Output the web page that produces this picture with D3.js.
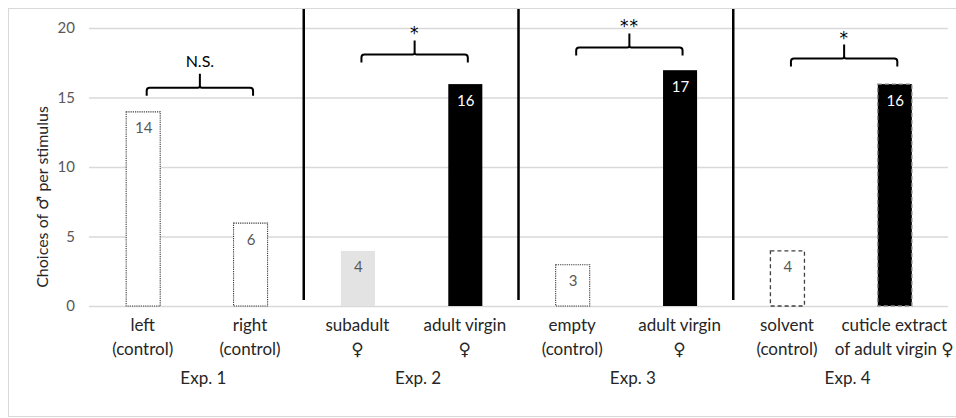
<!DOCTYPE html>
<html>
<head>
<meta charset="utf-8">
<script src="https://cdn.jsdelivr.net/npm/d3@7"></script>
<style>
  html, body { margin: 0; padding: 0; background: #fff; }
  svg { display: block; font-family: "Lato", "Open Sans", "DejaVu Sans", sans-serif; }
</style>
</head>
<body>
<svg id="chart" width="956" height="418"></svg>
<script>
// Stimulus categories (two lines each) and their experiment
const catLine1 = ["left", "right", "subadult", "adult virgin", "empty", "adult virgin", "solvent", "cuticle extract"];
const catLine2 = ["(control)", "(control)", "♀", "♀", "(control)", "♀", "(control)", "of adult virgin ♀"];
const values = [14, 6, 4, 16, 3, 17, 4, 16];
const barStyles = ["dotted", "dotted", "grey", "black", "dotted", "black", "dashed", "blackDashed"];
const experiments = ["Exp. 1", "Exp. 2", "Exp. 3", "Exp. 4"];
const sigLabels = ["N.S.", "*", "**", "*"];
const bracketLevels = [15.7, 18.1, 18.6, 17.8];
const yTicks = [0, 5, 10, 15, 20];

const svg = d3.select("#chart");
const W = 956, H = 418;
const labelSize = 17;

// outer frame
svg.append("rect").attr("x", 8.5).attr("y", 8.5).attr("width", W - 8).attr("height", H - 10)
  .attr("fill", "none").attr("stroke", "#d9d9d9").attr("stroke-width", 1);

const x = d3.scaleBand().domain(d3.range(values.length))
  .range([89, 948]).paddingInner(0.683).paddingOuter(0.3415);
const y = d3.scaleLinear().domain([0, 20]).range([306, 28]);
const centre = i => x(i) + x.bandwidth() / 2;

// gridlines and y ticks
const yAxis = d3.axisLeft(y).tickValues(yTicks).tickSize(-(948 - 89)).tickPadding(14);
const gy = svg.append("g").attr("transform", "translate(89,0)").call(yAxis);
gy.select(".domain").remove();
gy.selectAll(".tick line").attr("stroke", "#d9d9d9").attr("stroke-width", 1.3);
gy.selectAll(".tick text").attr("fill", "#595959").attr("font-size", 15)
  .attr("font-family", "Lato, 'Open Sans', sans-serif");

// y-axis title
svg.append("text")
  .attr("transform", `translate(48,${(y(0) + y(20)) / 2 + 30}) rotate(-90)`)
  .attr("text-anchor", "middle").attr("font-size", 16).attr("fill", "#262626")
  .text("Choices of ♂ per stimulus");

// bars
const bars = svg.append("g");
values.forEach((v, i) => {
  const st = barStyles[i];
  const r = bars.append("rect")
    .attr("x", x(i) + 0.5).attr("width", x.bandwidth())
    .attr("y", y(v) + 0.5).attr("height", y(0) - y(v) - 0.5);
  if (st === "dotted") {
    r.attr("fill", "#fff").attr("stroke", "#3a3a3a").attr("stroke-width", 1.1).attr("stroke-dasharray", "1.2,1");
  } else if (st === "grey") {
    r.attr("fill", "#e3e3e3");
  } else if (st === "black") {
    r.attr("fill", "#000");
  } else if (st === "dashed") {
    r.attr("fill", "#fff").attr("stroke", "#404040").attr("stroke-width", 1.3).attr("stroke-dasharray", "4,3");
  } else {
    r.attr("fill", "#000").attr("stroke", "#8a8a8a").attr("stroke-width", 1.3).attr("stroke-dasharray", "4,3");
  }
  svg.append("text")
    .attr("x", centre(i) + 1).attr("y", y(v) + 22)
    .attr("text-anchor", "middle").attr("font-size", 15)
    .attr("fill", (st === "black" || st === "blackDashed") ? "#fff" : "#595959")
    .text(v);
});

// experiment separators
[2, 4, 6].forEach(k => {
  const sx = x(k) - x.step() * x.paddingInner() / 2;
  svg.append("line").attr("x1", sx).attr("x2", sx).attr("y1", 9).attr("y2", 300)
    .attr("stroke", "#000").attr("stroke-width", 2.5);
});

// category labels
catLine1.forEach((t, i) => {
  svg.append("text").attr("x", centre(i)).attr("y", 331)
    .attr("text-anchor", "middle").attr("font-size", labelSize).attr("fill", "#262626").text(t);
  svg.append("text").attr("x", centre(i)).attr("y", 355)
    .attr("text-anchor", "middle").attr("font-size", labelSize).attr("fill", "#262626").text(catLine2[i]);
});

// experiment labels
experiments.forEach((t, g) => {
  const cx = (centre(2 * g) + centre(2 * g + 1)) / 2 + 7;
  svg.append("text").attr("x", cx).attr("y", 384)
    .attr("text-anchor", "middle").attr("font-size", labelSize).attr("fill", "#262626").text(t);
});

// significance brackets
experiments.forEach((t, g) => {
  const x1 = centre(2 * g) + 4, x2 = centre(2 * g + 1) + 3;
  const yh = y(bracketLevels[g]);
  const mx = (x1 + x2) / 2;
  const r = 3, drop = 8, rise = 14;
  const p = d3.path();
  p.moveTo(x1, yh + drop);
  p.lineTo(x1, yh + r);
  p.quadraticCurveTo(x1, yh, x1 + r, yh);
  p.lineTo(mx - 2, yh);
  p.quadraticCurveTo(mx, yh, mx, yh - 2);
  p.lineTo(mx, yh - rise);
  p.moveTo(mx, yh - 2);
  p.quadraticCurveTo(mx, yh, mx + 2, yh);
  p.lineTo(x2 - r, yh);
  p.quadraticCurveTo(x2, yh, x2, yh + r);
  p.lineTo(x2, yh + drop);
  svg.append("path").attr("d", p.toString()).attr("fill", "none")
    .attr("stroke", "#000").attr("stroke-width", 2);
  const ns = sigLabels[g] === "N.S.";
  svg.append("text").attr("x", mx).attr("y", ns ? yh - rise - 7 : yh - rise - 1)
    .attr("text-anchor", "middle")
    .attr("font-size", ns ? 16 : 17)
    .attr("font-family", ns ? "Lato, sans-serif" : "'DejaVu Sans', sans-serif")
    .attr("letter-spacing", ns ? 0 : 1)
    .attr("fill", "#000")
    .text(sigLabels[g]);
});
</script>
</body>
</html>
